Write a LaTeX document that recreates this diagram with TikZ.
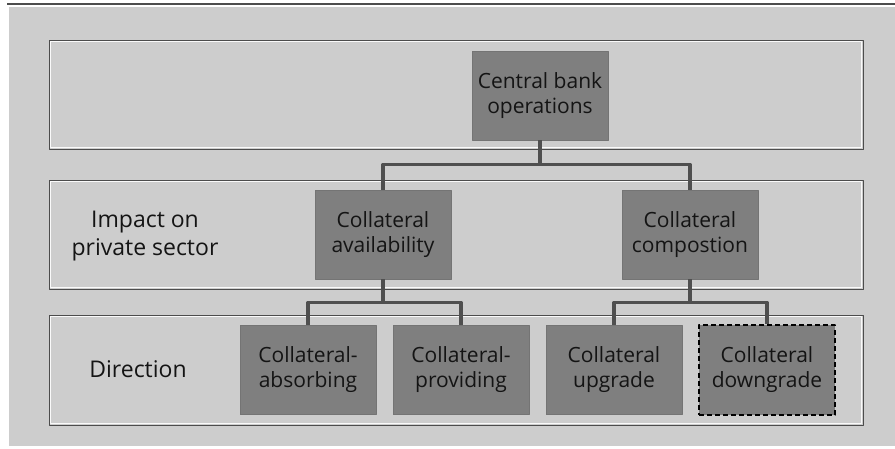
\documentclass[tikz,border=0pt]{standalone}
\usepackage{fontspec}
\setmainfont{Open Sans}
\definecolor{panel}{HTML}{CDCDCD}
\definecolor{boxgray}{HTML}{7F7F7F}
\definecolor{boxedge}{HTML}{747474}
\definecolor{linkgray}{HTML}{4F4F4F}
\definecolor{ink}{HTML}{141414}
\tikzset{
  box/.style={rectangle, fill=boxgray, draw=boxedge, line width=0.8pt, text=ink,
    minimum width=136pt, minimum height=89pt, inner sep=0pt, align=center,
    font=\fontsize{21}{25}\selectfont},
  guess/.style={box, draw=black, line width=2pt, dash pattern=on 5pt off 3pt},
  link/.style={draw=linkgray, line width=3.5pt},
  band/.style={draw=black!70, line width=0.9pt},
  lvl/.style={text=ink, align=center, font=\fontsize{23}{28}\selectfont}
}
\begin{document}
\begin{tikzpicture}[x=1pt, y=-1pt, line join=round]
\useasboundingbox (0,0) rectangle (895,449);
\fill[white] (0,0) rectangle (895,449);
\fill[panel] (9,7) rectangle (895,446);
\draw[black!70, line width=1.5pt] (7,4) -- (895,4);
% levels
\foreach \ytop/\ybot in {40/149, 180/289, 315/425}{
  \draw[white!90!panel, line width=0.8pt] (50.5,\ytop+1.5) rectangle (861.5,\ybot-1.5);
  \draw[band] (49,\ytop) rectangle (863,\ybot);
}
\node[lvl] (impact) at (145,236) {Impact on\\private sector};
\node[lvl] (dir) at (138,369) {Direction};
% boxes
\node[box] (cb) at (540,95.5) {Central bank\\operations};
\node[box] (avail) at (383,234.5) {Collateral\\availability};
\node[box] (comp) at (690,234.5) {Collateral\\compostion};
\node[box] (absorb) at (308,370) {Collateral-\\absorbing};
\node[box] (provide) at (461,370) {Collateral-\\providing};
\node[box] (up) at (614,370) {Collateral\\upgrade};
\node[guess] (down) at (767,370) {Collateral\\downgrade};
% links
\draw[link] (cb.south) -- ++(0,24) -| (avail.north);
\draw[link] (cb.south) -- ++(0,24) -| (comp.north);
\draw[link] (avail.south) -- ++(0,23) -| (absorb.north);
\draw[link] (avail.south) -- ++(0,23) -| (provide.north);
\draw[link] (comp.south) -- ++(0,23) -| (up.north);
\draw[link] (comp.south) -- ++(0,23) -| (down.north);
\end{tikzpicture}
\end{document}
